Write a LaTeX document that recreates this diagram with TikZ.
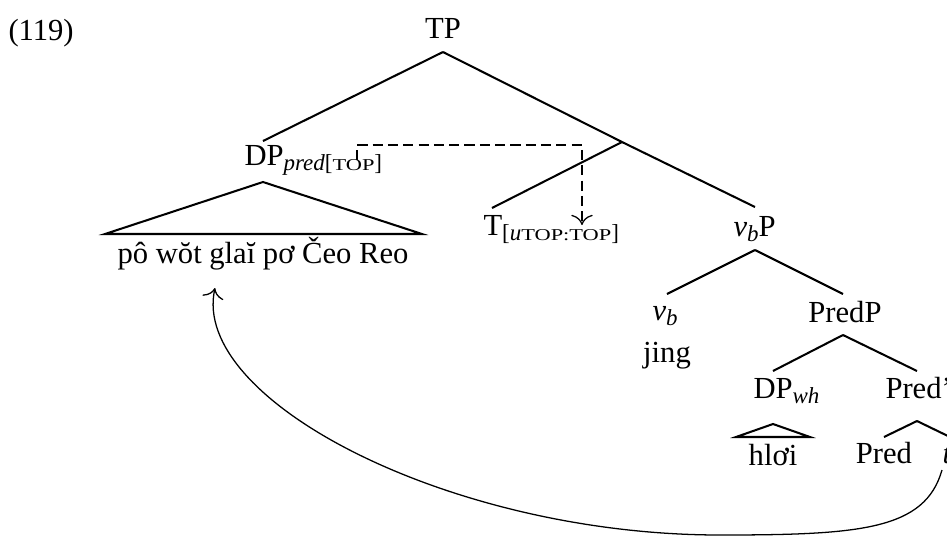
\documentclass[tikz,border=0pt]{standalone}
\usepackage{fontspec}
\setmainfont{Liberation Serif}
\newfontfamily\scfont[FakeStretch=1.35]{Liberation Serif}
\usetikzlibrary{arrows.meta}
\newcommand\lsub[1]{\raisebox{-2.2pt}{\fontsize{9}{10}\selectfont #1}}
\newcommand\fsc[1]{{\scfont\fontsize{6.5}{7}\selectfont #1}}
\tikzset{cat/.style={inner sep=0pt,anchor=base},
 catw/.style={cat,anchor=base west},
 br/.style={line width=.8pt},
 feat/.style={dash pattern=on 4pt off 2pt,line width=.5pt,-{To[length=4pt]}},
 mv/.style={line width=.5pt,-{To[length=4pt]}},
 every node/.style={font=\fontsize{12}{14}\selectfont}}
\begin{document}
\begin{tikzpicture}[x=0.392pt,y=-0.392pt]
\useasboundingbox (0,0) rectangle (947,538);
\node[catw] (ex) at (8,40) {(119)};
\node[cat] (tp) at (443,38) {TP};
\node[catw] (dp) at (244,165) {DP\lsub{\textit{pred}[\fsc{TOP}]}};
\node[cat] (dpl) at (263,263) {pô wŏt glaĭ pơ Čeo Reo};
\node[catw] (t) at (483,235) {T\lsub{[\textit{u}\fsc{TOP:TOP}]}};
\node[catw] (vp) at (733,236) {\textit{v}\lsub{\textit{b}}P};
\node[catw] (vb) at (652,320) {\textit{v}\lsub{\textit{b}}};
\node[cat] (jing) at (667,362) {jing};
\node[cat] (predp) at (845,322) {PredP};
\node[catw] (dpwh) at (753,398) {DP\lsub{\textit{wh}}};
\node[cat] (hloi) at (773,465) {hlơi};
\node[catw] (predb) at (885,398) {Pred'};
\node[cat] (pred) at (884,463) {Pred};
\node[catw] (tr) at (942,463) {\textit{t}};
% branch points
\coordinate (tpB) at (443,52);
\coordinate (dpT) at (263,141);
\coordinate (tbar) at (622,142);
\coordinate (tT) at (492,208);
\coordinate (vpT) at (755,207);
\coordinate (vpB) at (755,250);
\coordinate (vbT) at (667,294);
\coordinate (predpT) at (843,294);
\coordinate (predpB) at (843,335);
\coordinate (dpwhT) at (773,371);
\coordinate (predbT) at (917,371);
\coordinate (predbB) at (917,421);
\coordinate (predT) at (884,437);
\coordinate (trT) at (950,437);
\foreach \u/\v in {tpB/dpT,tpB/tbar,tbar/tT,tbar/vpT,vpB/vbT,vpB/predpT,
 predpB/dpwhT,predpB/predbT,predbB/predT,predbB/trT}{\draw[br] (\u)--(\v);}
% triangles
\draw[br] (263,182) -- (105,234) -- (422,234) -- cycle;
\draw[br] (773,424) -- (736,437) -- (810,437) -- cycle;
% feature valuation
\coordinate (fs) at (357,160);
\coordinate (fe) at (582,225);
\draw[feat] (fs) |- (582,145) -- (fe);
% movement
\coordinate (mvs) at (942,470);
\coordinate (mve) at (215,288);
\draw[mv] (mvs) .. controls (925,530) and (860,535) .. (720,535)
 .. controls (450,535) and (190,400) .. (mve);
\end{tikzpicture}
\end{document}
